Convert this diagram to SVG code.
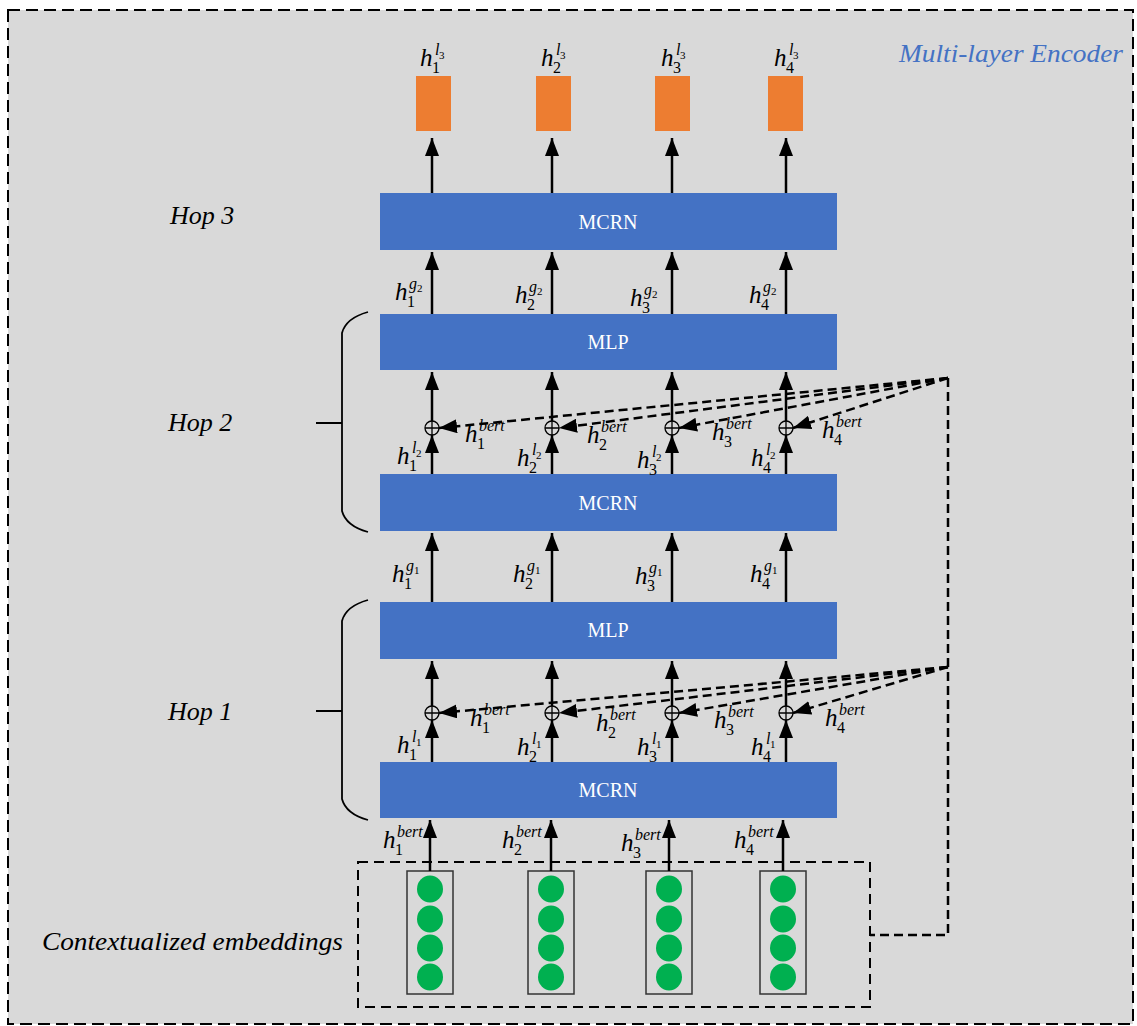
<svg xmlns="http://www.w3.org/2000/svg" width="1137" height="1026" viewBox="0 0 1137 1026">
<defs>
<style>
text{font-family:"Liberation Serif","Times New Roman","DejaVu Serif",serif}
.bar{fill:#4472C4}
.bt{font-size:20px;fill:#fff;text-anchor:middle}
.org{fill:#ED7D31}
.ar{stroke:#000;stroke-width:2.5;fill:none;marker-end:url(#ah)}
.da{stroke:#000;stroke-width:2.5;fill:none;stroke-dasharray:9 5;marker-end:url(#ah)}
.dl{stroke:#000;stroke-width:2.5;fill:none;stroke-dasharray:9 5}
.m{font-style:italic;font-size:25px;fill:#000}
.s{font-size:16px;fill:#000}
.p{font-style:italic;font-size:16px;fill:#000}
.ss{font-size:11px;fill:#000}
.hop{font-style:italic;font-size:26px;fill:#000}
.col{fill:none;stroke:#333;stroke-width:1.5}
.dot{fill:#00B050}
.plus{fill:none;stroke:#000;stroke-width:1.3}
</style>
<marker id="ah" markerUnits="userSpaceOnUse" markerWidth="18" markerHeight="14" refX="18" refY="7" orient="auto">
<path d="M0,0 L18,7 L0,14 z" fill="#000"/>
</marker>
<g id="plus"><circle r="7" class="plus"/><path d="M-7,0 H7 M0,-7 V7" class="plus"/></g>
<g id="emb"><rect x="-23" y="0" width="46" height="123" class="col"/><ellipse cy="18" rx="13" ry="13.5" class="dot"/><ellipse cy="48" rx="13" ry="13.5" class="dot"/><ellipse cy="77" rx="13" ry="13.5" class="dot"/><ellipse cy="106" rx="13" ry="13.5" class="dot"/></g>
</defs>
<rect x="0" y="0" width="1137" height="1026" fill="#fff"/>
<rect id="frame" x="8" y="10" width="1125" height="1014" fill="#D9D9D9" stroke="#000" stroke-width="2" stroke-dasharray="12 6"/>
<text x="899" y="62" font-style="italic" font-size="26" fill="#4472C4" textLength="224" lengthAdjust="spacingAndGlyphs">Multi-layer Encoder</text>

<g id="hop-labels">
<text x="170" y="224" class="hop">Hop 3</text>
<text x="168" y="431" class="hop">Hop 2</text>
<text x="168" y="720" class="hop">Hop 1</text>
<path d="M368,312 Q346,318 342,333 V511 Q346,526 368,532 M316,423 H342" fill="none" stroke="#000" stroke-width="1.8"/>
<path d="M368,600 Q346,606 342,621 V799 Q346,814 368,820 M316,711 H342" fill="none" stroke="#000" stroke-width="1.8"/>
</g>

<g id="outputs">
<rect x="416" y="76" width="35" height="55" class="org"/>
<rect x="536" y="76" width="35" height="55" class="org"/>
<rect x="655" y="76" width="35" height="55" class="org"/>
<rect x="768" y="76" width="35" height="55" class="org"/>
</g>

<g id="mcrn3"><rect x="380" y="193" width="457" height="57" class="bar"/><text x="608" y="229" class="bt">MCRN</text></g>
<g id="mlp2"><rect x="380" y="314" width="457" height="56" class="bar"/><text x="608" y="349" class="bt">MLP</text></g>
<g id="mcrn2"><rect x="380" y="474" width="457" height="57" class="bar"/><text x="608" y="510" class="bt">MCRN</text></g>
<g id="mlp1"><rect x="380" y="602" width="457" height="57" class="bar"/><text x="608" y="637" class="bt">MLP</text></g>
<g id="mcrn1"><rect x="380" y="762" width="457" height="56" class="bar"/><text x="608" y="797" class="bt">MCRN</text></g>

<g id="sum2">
<use href="#plus" x="432" y="428"/><use href="#plus" x="552" y="428"/><use href="#plus" x="672" y="428"/><use href="#plus" x="786" y="428"/>
</g>
<g id="sum1">
<use href="#plus" x="432" y="713"/><use href="#plus" x="552" y="713"/><use href="#plus" x="672" y="713"/><use href="#plus" x="786" y="713"/>
</g>

<g id="embeddings">
<rect x="358" y="862" width="512" height="145" fill="none" stroke="#000" stroke-width="2" stroke-dasharray="10 6"/>
<use href="#emb" x="430" y="871"/><use href="#emb" x="551" y="871"/><use href="#emb" x="669" y="871"/><use href="#emb" x="783" y="871"/>
<text x="42" y="950" class="hop" textLength="301" lengthAdjust="spacingAndGlyphs">Contextualized embeddings</text>
</g>

<g id="connectors">
<path class="ar" d="M432,193 V138"/><path class="ar" d="M552,193 V138"/><path class="ar" d="M672,193 V138"/><path class="ar" d="M786,193 V138"/>
<path class="ar" d="M432,314 V252"/><path class="ar" d="M552,314 V252"/><path class="ar" d="M672,314 V252"/><path class="ar" d="M786,314 V252"/>
<path class="ar" d="M432,421 V372"/><path class="ar" d="M552,421 V372"/><path class="ar" d="M672,421 V372"/><path class="ar" d="M786,421 V372"/>
<path class="ar" d="M432,474 V435"/><path class="ar" d="M552,474 V435"/><path class="ar" d="M672,474 V435"/><path class="ar" d="M786,474 V435"/>
<path class="ar" d="M432,602 V533"/><path class="ar" d="M552,602 V533"/><path class="ar" d="M672,602 V533"/><path class="ar" d="M786,602 V533"/>
<path class="ar" d="M432,706 V661"/><path class="ar" d="M552,706 V661"/><path class="ar" d="M672,706 V661"/><path class="ar" d="M786,706 V661"/>
<path class="ar" d="M432,762 V720"/><path class="ar" d="M552,762 V720"/><path class="ar" d="M672,762 V720"/><path class="ar" d="M786,762 V720"/>
<path class="ar" d="M430,871 V820"/><path class="ar" d="M551,871 V820"/><path class="ar" d="M669,871 V820"/><path class="ar" d="M783,871 V820"/>
<path class="da" d="M948,378 L439,428"/>
<path class="da" d="M948,378 L559,428"/>
<path class="da" d="M948,378 L679,428"/>
<path class="da" d="M948,378 L793,428"/>
<path class="da" d="M948,667 L439,713"/>
<path class="da" d="M948,667 L559,713"/>
<path class="da" d="M948,667 L679,713"/>
<path class="da" d="M948,667 L793,713"/>
<path class="dl" d="M948,378 V935 H870"/>
</g>

<g id="labels">
<g transform="translate(420,66)"><text class="m">h</text><text x="12" y="7" class="s">1</text><text x="15" y="-11" class="p">l</text><text x="19" y="-7" class="ss">3</text></g>
<g transform="translate(541,66)"><text class="m">h</text><text x="12" y="7" class="s">2</text><text x="15" y="-11" class="p">l</text><text x="19" y="-7" class="ss">3</text></g>
<g transform="translate(661,66)"><text class="m">h</text><text x="12" y="7" class="s">3</text><text x="15" y="-11" class="p">l</text><text x="19" y="-7" class="ss">3</text></g>
<g transform="translate(774,66)"><text class="m">h</text><text x="12" y="7" class="s">4</text><text x="15" y="-11" class="p">l</text><text x="19" y="-7" class="ss">3</text></g>

<g transform="translate(395,300)"><text class="m">h</text><text x="12" y="7" class="s">1</text><text x="14" y="-11" class="p">g</text><text x="22" y="-8" class="ss">2</text></g>
<g transform="translate(515,303)"><text class="m">h</text><text x="12" y="7" class="s">2</text><text x="14" y="-11" class="p">g</text><text x="22" y="-8" class="ss">2</text></g>
<g transform="translate(630,306)"><text class="m">h</text><text x="12" y="7" class="s">3</text><text x="14" y="-11" class="p">g</text><text x="22" y="-8" class="ss">2</text></g>
<g transform="translate(749,303)"><text class="m">h</text><text x="12" y="7" class="s">4</text><text x="14" y="-11" class="p">g</text><text x="22" y="-8" class="ss">2</text></g>

<g transform="translate(465,442)"><text class="m">h</text><text x="12" y="7" class="s">1</text><text x="14" y="-11" class="p">bert</text></g>
<g transform="translate(587,443)"><text class="m">h</text><text x="12" y="7" class="s">2</text><text x="14" y="-11" class="p">bert</text></g>
<g transform="translate(712,440)"><text class="m">h</text><text x="12" y="7" class="s">3</text><text x="14" y="-11" class="p">bert</text></g>
<g transform="translate(822,438)"><text class="m">h</text><text x="12" y="7" class="s">4</text><text x="14" y="-11" class="p">bert</text></g>

<g transform="translate(397,464)"><text class="m">h</text><text x="12" y="7" class="s">1</text><text x="15" y="-11" class="p">l</text><text x="19" y="-7" class="ss">2</text></g>
<g transform="translate(517,466)"><text class="m">h</text><text x="12" y="7" class="s">2</text><text x="15" y="-11" class="p">l</text><text x="19" y="-7" class="ss">2</text></g>
<g transform="translate(637,468)"><text class="m">h</text><text x="12" y="7" class="s">3</text><text x="15" y="-11" class="p">l</text><text x="19" y="-7" class="ss">2</text></g>
<g transform="translate(751,466)"><text class="m">h</text><text x="12" y="7" class="s">4</text><text x="15" y="-11" class="p">l</text><text x="19" y="-7" class="ss">2</text></g>

<g transform="translate(392,582)"><text class="m">h</text><text x="12" y="7" class="s">1</text><text x="14" y="-11" class="p">g</text><text x="22" y="-8" class="ss">1</text></g>
<g transform="translate(513,582)"><text class="m">h</text><text x="12" y="7" class="s">2</text><text x="14" y="-11" class="p">g</text><text x="22" y="-8" class="ss">1</text></g>
<g transform="translate(635,584)"><text class="m">h</text><text x="12" y="7" class="s">3</text><text x="14" y="-11" class="p">g</text><text x="22" y="-8" class="ss">1</text></g>
<g transform="translate(750,582)"><text class="m">h</text><text x="12" y="7" class="s">4</text><text x="14" y="-11" class="p">g</text><text x="22" y="-8" class="ss">1</text></g>

<g transform="translate(470,726)"><text class="m">h</text><text x="12" y="7" class="s">1</text><text x="14" y="-11" class="p">bert</text></g>
<g transform="translate(596,731)"><text class="m">h</text><text x="12" y="7" class="s">2</text><text x="14" y="-11" class="p">bert</text></g>
<g transform="translate(714,728)"><text class="m">h</text><text x="12" y="7" class="s">3</text><text x="14" y="-11" class="p">bert</text></g>
<g transform="translate(825,726)"><text class="m">h</text><text x="12" y="7" class="s">4</text><text x="14" y="-11" class="p">bert</text></g>

<g transform="translate(397,753)"><text class="m">h</text><text x="12" y="7" class="s">1</text><text x="15" y="-11" class="p">l</text><text x="19" y="-7" class="ss">1</text></g>
<g transform="translate(517,755)"><text class="m">h</text><text x="12" y="7" class="s">2</text><text x="15" y="-11" class="p">l</text><text x="19" y="-7" class="ss">1</text></g>
<g transform="translate(637,755)"><text class="m">h</text><text x="12" y="7" class="s">3</text><text x="15" y="-11" class="p">l</text><text x="19" y="-7" class="ss">1</text></g>
<g transform="translate(751,755)"><text class="m">h</text><text x="12" y="7" class="s">4</text><text x="15" y="-11" class="p">l</text><text x="19" y="-7" class="ss">1</text></g>

<g transform="translate(383,848)"><text class="m">h</text><text x="12" y="7" class="s">1</text><text x="14" y="-11" class="p">bert</text></g>
<g transform="translate(502,848)"><text class="m">h</text><text x="12" y="7" class="s">2</text><text x="14" y="-11" class="p">bert</text></g>
<g transform="translate(621,851)"><text class="m">h</text><text x="12" y="7" class="s">3</text><text x="14" y="-11" class="p">bert</text></g>
<g transform="translate(734,848)"><text class="m">h</text><text x="12" y="7" class="s">4</text><text x="14" y="-11" class="p">bert</text></g>
</g>
</svg>
